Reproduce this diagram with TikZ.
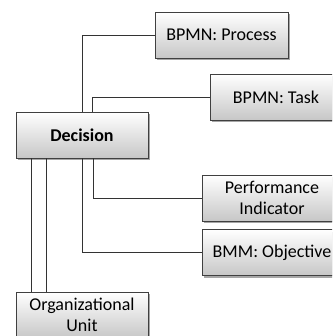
\documentclass[tikz,border=0pt]{standalone}
\usepackage{fontspec}
\setmainfont{Carlito}
\usetikzlibrary{shadows}

\tikzset{
  elem/.style={draw=black!75, line width=0.9pt, top color=white, bottom color=black!22,
    minimum width=132pt, minimum height=46pt, inner sep=1pt, align=center,
    font=\fontsize{18}{21.5}\selectfont,
    drop shadow={shadow xshift=2pt, shadow yshift=-2pt, fill=black, opacity=0.35}},
  link/.style={draw=black!80, line width=0.9pt}
}

\begin{document}
\begin{tikzpicture}[x=1pt, y=-1pt]
    \useasboundingbox (0,0) rectangle (332,336);
    \clip (0,0) rectangle (332,336);
    % elements
    \node[elem] (dec) at (82,135) {\textbf{Decision}};
    \node[elem, minimum width=133pt] (proc) at (221.5,35) {BPMN: Process};
    \node[elem] (task) at (276,97) {BPMN: Task};
    \node[elem, minimum width=140pt] (perf) at (272,198) {Performance\\Indicator};
    \node[elem, minimum width=140pt] (obj) at (272,252.5) {BMM: Objective};
    \node[elem] (org) at (82,315) {Organizational\\Unit};
    % links
    \draw[link] (dec.north) |- (proc.west);
    \draw[link] ([xshift=10pt]dec.north) |- (task.west);
    \draw[link] ([xshift=11pt]dec.south) |- (perf.west);
    \draw[link] (dec.south) |- (obj.west);
    \draw[link] ([xshift=-51pt]dec.south) -- ([xshift=-51pt]org.north);
    \draw[link] ([xshift=-36pt]dec.south) -- ([xshift=-36pt]org.north);
\end{tikzpicture}
\end{document}
